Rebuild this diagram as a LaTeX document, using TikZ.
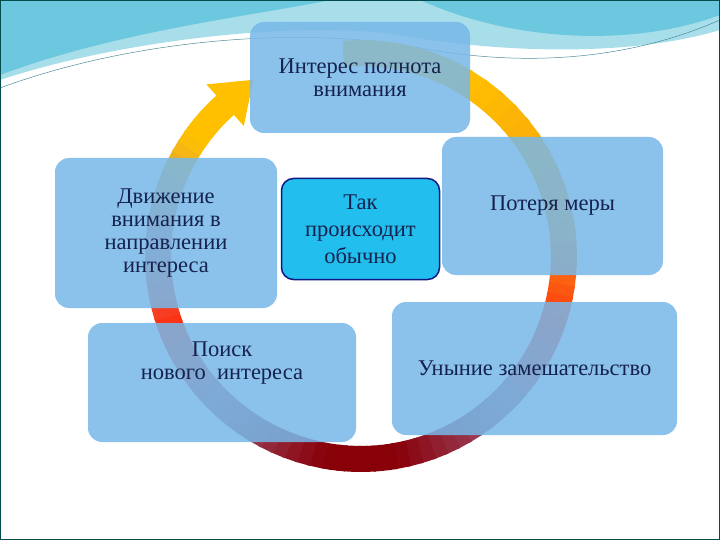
\documentclass[tikz,border=0pt]{standalone}
\usepackage{fontspec}
\setmainfont{Liberation Serif}
\begin{document}
\begin{tikzpicture}[x=1pt,y=-1pt,
  box/.style={draw=none,rounded corners=14,fill=boxblue,fill opacity=0.86,text opacity=1,align=center,text=navy,font=\fontsize{22.5}{23}\selectfont,inner sep=0},
]
\definecolor{boxblue}{HTML}{78B8E8}
\definecolor{navy}{HTML}{15224E}
\definecolor{yel}{HTML}{FFC000}
\definecolor{org}{HTML}{F8A010}
\definecolor{rd}{HTML}{FF3010}
\definecolor{mauve}{HTML}{A05878}
\definecolor{dred}{HTML}{880008}
\definecolor{lmauve}{HTML}{C08080}
\definecolor{cyanA}{HTML}{6CC8DE}
\definecolor{cyanB}{HTML}{A8DDEA}
\definecolor{cyanC}{HTML}{22BEEE}
\useasboundingbox (0,0) rectangle (720,540);
\fill[white] (0,0) rectangle (720,540);
% top waves
\fill[cyanB] (0,0) -- (720,0) -- (720,30) .. controls (620,60) and (480,50) .. (400,35) .. controls (300,20) and (120,40) .. (0,80) -- cycle;
\fill[cyanA] (0,0) -- (330,0) .. controls (260,15) and (120,30) .. (0,75) -- cycle;
\fill[cyanA] (420,0) -- (720,0) -- (720,15) .. controls (640,45) and (520,45) .. (420,0) -- cycle;
\draw[cyanA!70!black,line width=0.5] (0,88) .. controls (130,40) and (300,25) .. (420,48) .. controls (540,70) and (640,55) .. (720,20);
\draw[teal!60!black,line width=1.2] (0.6,0.6) rectangle (719.4,539.4);
% ring
\foreach \sa/\sb/\ca/\cb in {95/60/yel/yel,60/10/yel/org,10/-20/org/rd,-20/-45/rd/mauve,-45/-80/mauve/dred,-80/-100/dred/dred,-100/-135/dred/mauve,-135/-160/mauve/rd,-160/-185/rd/lmauve,-185/-215/lmauve/yel,-215/-228/yel/yel}{
  \foreach \t in {0,1,...,9}{
    \pgfmathsetmacro\aa{\sa+(\sb-\sa)*\t/10}
    \pgfmathsetmacro\ab{\sa+(\sb-\sa)*(\t+1.3)/10}
    \pgfmathsetmacro\pp{100*(\t+0.5)/10}
    \colorlet{cc}{\cb!\pp!\ca}
    \draw[line width=26,cc] ({361+203*cos(\aa)},{256-203*sin(\aa)}) -- ({361+203*cos(\ab)},{256-203*sin(\ab)});
  }
}
\fill[yel] (206.4,84.4) -- (253.3,79.8) -- (243.8,126.0) -- cycle;
% boxes
\node[box,minimum width=220,minimum height=111] (top) at (360,77.5) {Интерес полнота\\внимания};
\node[box,minimum width=222,minimum height=150] (left) at (166,233) {Движение\\внимания в\\направлении\\интереса};
\node[box,minimum width=221,minimum height=138] (right) at (552.5,206) {Потеря меры};
\node[box,minimum width=268,minimum height=119] (bl) at (222,382.5) {Поиск\\нового\ \ интереса\\[20pt]};
\node[box,minimum width=285,minimum height=133] (br) at (534.5,368.5) {Уныние замешательство};
\node[draw=navy!70!blue,line width=1.5,rounded corners=12,fill=cyanC,align=center,text=navy,font=\fontsize{22.5}{27}\selectfont,minimum width=158,minimum height=101] (c) at (360.5,229) {Так\\происходит\\обычно};
\end{tikzpicture}
\end{document}
